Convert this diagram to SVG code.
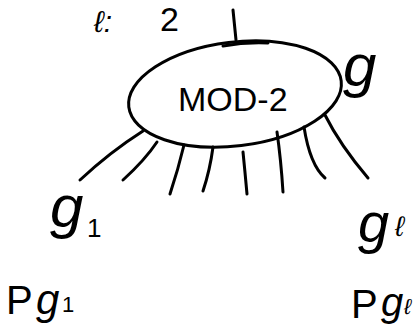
<svg xmlns="http://www.w3.org/2000/svg" width="414" height="328" viewBox="0 0 414 328">
<style>
.s{fill:none;stroke:#000;stroke-width:3;stroke-linecap:round;stroke-linejoin:round}
text{font-family:"Liberation Sans","DejaVu Sans",sans-serif;fill:#000}
.h{font-style:italic}
</style>
<rect width="414" height="328" fill="#fff"/>
<g id="label-top">
<text x="94" y="32" font-size="30" class="h">ℓ:</text>
<text x="160" y="31" font-size="34">2</text>
</g>
<g id="connectors">
<path class="s" d="M233,10 L236,40"/>
<path class="s" d="M143,131 Q110,152 80,180"/>
<path class="s" d="M157,142 Q145,160 123,180"/>
<path class="s" d="M184,145 Q178,170 170,194"/>
<path class="s" d="M213,147 Q210,170 203,191"/>
<path class="s" d="M243,152 Q245,172 247,194"/>
<path class="s" d="M277,132 Q281,160 283,192"/>
<path class="s" d="M304,127 Q310,165 325,178"/>
<path class="s" d="M325,115 Q340,145 368,178"/>
</g>
<g id="node-mod">
<ellipse class="s" cx="235" cy="94" rx="107" ry="52" transform="rotate(-7 235 94)"/>
<path class="s" d="M223,46 Q245,42 268,43"/>
<text x="178" y="111" font-size="34">MOD-2</text>
<text x="343" y="86" font-size="60" class="h">g</text>
</g>
<g id="node-g1">
<text x="50" y="227" font-size="60" class="h">g</text>
<text x="87" y="237" font-size="26">1</text>
</g>
<g id="node-gl">
<text x="358" y="242" font-size="56" class="h">g</text>
<text x="395" y="236" font-size="28" class="h">ℓ</text>
</g>
<g id="label-pg1">
<text x="6" y="314" font-size="40">P</text>
<text x="36" y="314" font-size="42" class="h">g</text>
<text x="62" y="312" font-size="22">1</text>
</g>
<g id="label-pgl">
<text x="351" y="318" font-size="40">P</text>
<text x="381" y="316" font-size="40" class="h">g</text>
<text x="404" y="314" font-size="22" class="h">ℓ</text>
</g>
</svg>
